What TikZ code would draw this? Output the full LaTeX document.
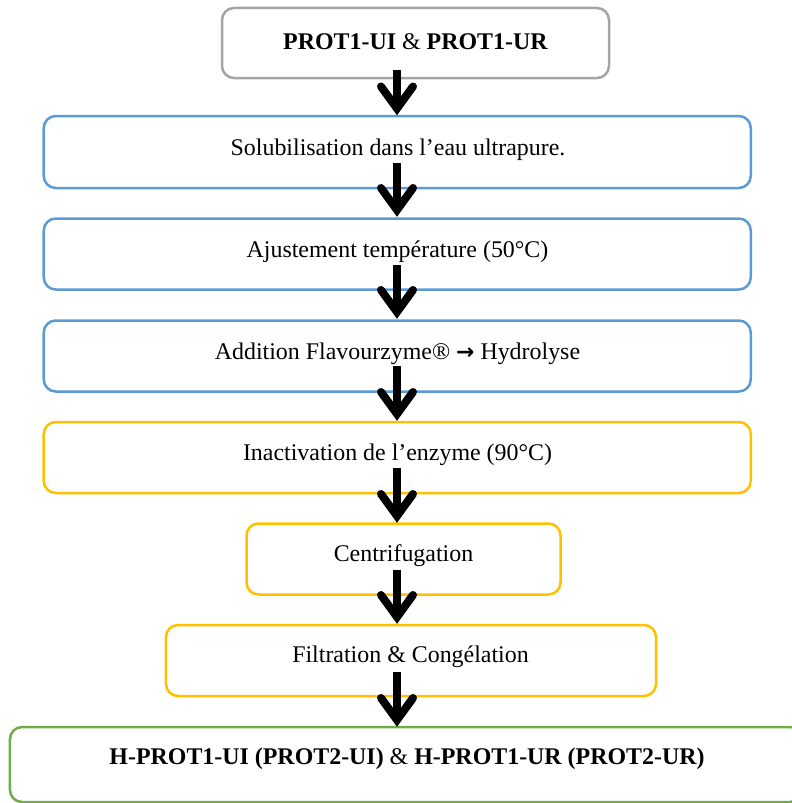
\documentclass[tikz,border=0pt]{standalone}
\usepackage{fontspec}
\setmainfont{Liberation Serif}
\newfontfamily\symfont{DejaVu Sans}
\definecolor{cgray}{HTML}{A5A5A5}
\definecolor{cblue}{HTML}{5B9BD5}
\definecolor{cyellow}{HTML}{FFC000}
\definecolor{cgreen}{HTML}{70AD47}
\tikzset{
  box/.style={draw=#1, line width=2.5bp, rounded corners=12bp, fill=white, inner sep=0pt},
  txt/.style={font=\fontsize{24}{28}\selectfont, inner sep=0pt, anchor=center},
  shaft/.style={line width=8bp, line cap=butt, draw=black},
  barb/.style={line width=8bp, line cap=round, line join=miter, draw=black},
}
\newcommand\flowarrow[2]{%
  \draw[shaft] (#1) -- ([yshift=10bp]#2);
  \draw[barb] ([shift={(-16,-29)}]#2) -- ([shift={(0,-7)}]#2) -- ([shift={(16,-29)}]#2);
}
\begin{document}
\begin{tikzpicture}[x=1bp,y=-1bp]
\useasboundingbox (0,0) rectangle (792,803);
\clip (0,0) rectangle (792,803);
% boxes
\node[box=cgray, minimum width=387bp, minimum height=70bp] (b1) at (415.5,43) {};
\node[box=cblue, minimum width=707bp, minimum height=72bp] (b2) at (397.25,152) {};
\node[box=cblue, minimum width=707bp, minimum height=71bp] (b3) at (397.25,254) {};
\node[box=cblue, minimum width=707bp, minimum height=71bp] (b4) at (397.25,356) {};
\node[box=cyellow, minimum width=707bp, minimum height=71bp] (b5) at (397.25,457.5) {};
\node[box=cyellow, minimum width=314bp, minimum height=71bp] (b6) at (403.5,559) {};
\node[box=cyellow, minimum width=490bp, minimum height=71bp] (b7) at (411,660.5) {};
\node[box=cgreen, minimum width=792bp, minimum height=75bp] (b8) at (406,764.5) {};
% texts
\node[txt] (t1) at (415.5,42) {\textbf{PROT1-UI} \& \textbf{PROT1-UR}};
\node[txt] (t2) at (398,150) {Solubilisation dans l’eau ultrapure.};
\node[txt] (t3) at (397.5,252) {Ajustement température (50°C)};
\node[txt] (t4) at (397.5,354) {Addition Flavourzyme® {\symfont\bfseries\fontsize{22}{26}\selectfont →} Hydrolyse};
\node[txt] (t5) at (397.5,455) {Inactivation de l’enzyme (90°C)};
\node[txt] (t6) at (403.5,556) {Centrifugation};
\node[txt] (t7) at (410.5,657) {Filtration \& Congélation};
\node[txt] (t8) at (407,759) {\textbf{H-PROT1-UI (PROT2-UI)} \& \textbf{H-PROT1-UR (PROT2-UR)}};
% arrow coordinates
\coordinate (s1) at (397,70);  \coordinate (e1) at (397,115.5);
\coordinate (s2) at (397,163); \coordinate (e2) at (397,217);
\coordinate (s3) at (397,265); \coordinate (e3) at (397,319);
\coordinate (s4) at (397,366); \coordinate (e4) at (397,421);
\coordinate (s5) at (397,468); \coordinate (e5) at (397,523);
\coordinate (s6) at (397,570); \coordinate (e6) at (397,624);
\coordinate (s7) at (397,672); \coordinate (e7) at (397,727);
\flowarrow{s1}{e1}
\flowarrow{s2}{e2}
\flowarrow{s3}{e3}
\flowarrow{s4}{e4}
\flowarrow{s5}{e5}
\flowarrow{s6}{e6}
\flowarrow{s7}{e7}
\end{tikzpicture}
\end{document}
